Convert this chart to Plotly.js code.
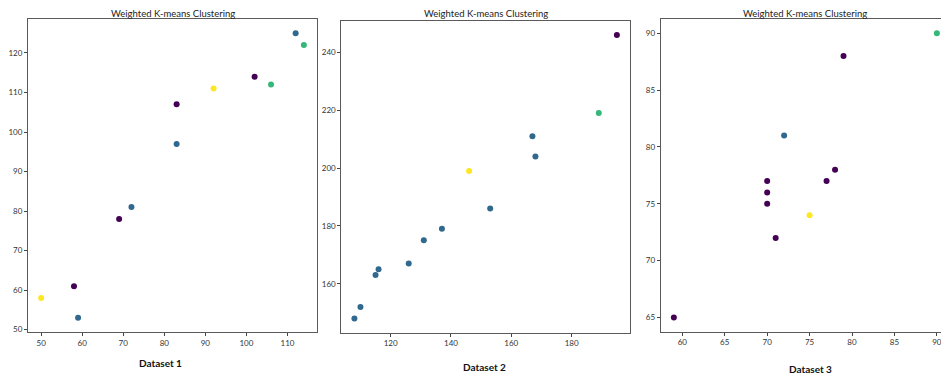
<!DOCTYPE html>
<html><head><meta charset="utf-8">
<script src="https://cdn.plot.ly/plotly-3.0.1.min.js"></script>
<style>html,body{margin:0;padding:0;overflow:hidden;background:#fff;width:941px;height:378px}</style>
</head><body><div id="chart"></div>
<script>
// Dataset 1
const d1_x = [50, 58, 59, 69, 72, 83, 83, 92, 102, 106, 112, 114];
const d1_y = [58, 61, 53, 78, 81, 107, 97, 111, 114, 112, 125, 122];
const d1_c = [3, 0, 1, 0, 1, 0, 1, 3, 0, 2, 1, 2];
// Dataset 2
const d2_x = [108, 110, 115, 116, 126, 131, 137, 153, 146, 167, 168, 189, 195];
const d2_y = [148, 152, 163, 165, 167, 175, 179, 186, 199, 211, 204, 219, 246];
const d2_c = [1, 1, 1, 1, 1, 1, 1, 1, 3, 1, 1, 2, 0];
// Dataset 3
const d3_x = [59, 70, 70, 70, 71, 72, 75, 77, 78, 79, 90];
const d3_y = [65, 77, 76, 75, 72, 81, 74, 77, 78, 88, 90];
const d3_c = [0, 0, 0, 0, 0, 1, 3, 0, 0, 0, 2];

const palette = ['#440154', '#31688e', '#35b779', '#fde725'];
const chartTitle = 'Weighted K-means Clustering';
const captions = ['Dataset 1', 'Dataset 2', 'Dataset 3'];

const W = 951, H = 378;
function trace(x, y, c, ax) {
  return {x: x, y: y, type: 'scatter', mode: 'markers',
    xaxis: 'x' + ax, yaxis: 'y' + ax,
    marker: {size: 6, color: c.map(i => palette[i]), line: {width: 0}},
    hoverinfo: 'x+y', showlegend: false};
}
const frames = [
  {l: 28, r: 317, t: 19, b: 332, xr: [46.8, 117.2], yr: [49.4, 128.6], xd: 10, yd: 10},
  {l: 341.3, r: 630, t: 20.7, b: 332.7, xr: [103.65, 199.35], yr: [143.1, 250.9], xd: 20, yd: 20},
  {l: 660.7, r: 950, t: 19, b: 331.7, xr: [57.45, 91.55], yr: [63.75, 91.25], xd: 5, yd: 5}
];
const capPos = [[160.7, 363], [484.3, 366.5], [810, 369]];
const layout = {width: W, height: H, margin: {l: 0, r: 0, t: 0, b: 0},
  paper_bgcolor: '#fff', plot_bgcolor: '#fff', showlegend: false, annotations: []};
frames.forEach((f, i) => {
  const n = i === 0 ? '' : String(i + 1);
  const common = {showgrid: false, zeroline: false, showline: true, mirror: true,
    linecolor: '#5a5a5a', linewidth: 1, ticks: 'outside', ticklen: 3, tickcolor: '#444',
    tickfont: {family: 'Lato', size: 8, color: '#333'}};
  layout['xaxis' + n] = Object.assign({}, common, {domain: [f.l / W, f.r / W], range: f.xr,
    dtick: f.xd, anchor: 'y' + n});
  layout['yaxis' + n] = Object.assign({}, common, {domain: [1 - f.b / H, 1 - f.t / H], range: f.yr,
    dtick: f.yd, anchor: 'x' + n});
  layout.annotations.push({text: chartTitle, xref: 'paper', yref: 'paper',
    x: (f.l + f.r) / 2 / W, y: 1 - 13 / H, xanchor: 'center', yanchor: 'middle', showarrow: false,
    font: {family: 'Lato', size: 9.5, color: '#222'}});
  layout.annotations.push({text: '<b>' + captions[i] + '</b>', xref: 'paper', yref: 'paper',
    x: capPos[i][0] / W, y: 1 - capPos[i][1] / H, xanchor: 'center', yanchor: 'middle', showarrow: false,
    font: {family: 'Lato', size: 10, color: '#111'}});
});
const data = [trace(d1_x, d1_y, d1_c, ''), trace(d2_x, d2_y, d2_c, '2'), trace(d3_x, d3_y, d3_c, '3')];
Plotly.newPlot('chart', data, layout, {displayModeBar: false, staticPlot: true});
</script></body></html>
